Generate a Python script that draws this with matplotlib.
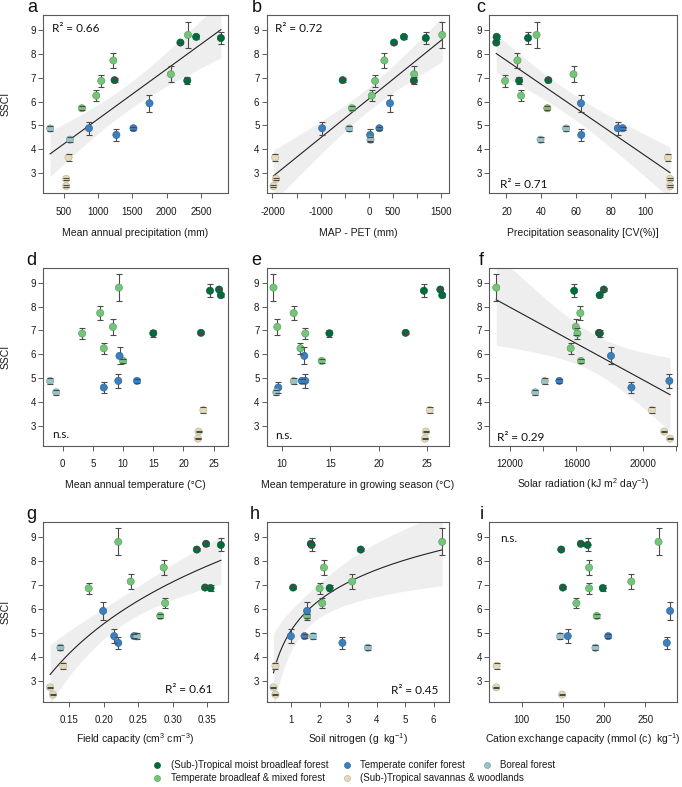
import numpy as np
import matplotlib
matplotlib.use("Agg")
import matplotlib.pyplot as plt
from matplotlib.lines import Line2D

plt.rcParams['font.family'] = ['Liberation Sans', 'DejaVu Sans']
plt.rcParams['axes.unicode_minus'] = False
plt.rcParams['mathtext.fontset'] = 'custom'
plt.rcParams['mathtext.rm'] = 'Liberation Sans'
plt.rcParams['mathtext.it'] = 'Liberation Sans:italic'
plt.rcParams['mathtext.bf'] = 'Liberation Sans:bold'

# ---------------- data ----------------
biome = ['TM'] * 5 + ['TB'] * 6 + ['TC'] * 4 + ['BF'] * 2 + ['SV'] * 3
ssci = [8.48, 8.72, 8.67, 6.90, 6.88,
        5.72, 6.25, 6.87, 7.73, 7.15, 8.80,
        4.88, 4.60, 4.88, 5.93,
        4.87, 4.40,
        3.65, 2.75, 2.45]
ssci_se = [0.08, 0.08, 0.27, 0.07, 0.14,
           0.08, 0.22, 0.24, 0.30, 0.33, 0.56,
           0.28, 0.24, 0.07, 0.36,
           0.12, 0.10,
           0.13, 0.03, 0.03]

map_mm = [2200, 2430, 2790, 1240, 2300, 763, 973, 1046, 1222, 2061, 2310,
          866, 1266, 1515, 1749, 300, 588, 568, 534, 534]
map_pet = [519, 725, 1178, -545, 931, -353, 59, 128, 320, 937, 1520,
           -970, 25, 217, 436, -408, 32, -1945, -1930, -1980]
prec_seas = [14.1, 14.3, 32.4, 44.1, 27.3, 43.5, 28.4, 19.2, 26.3, 58.6, 37.3,
             84.1, 63.1, 86.9, 62.9, 54.3, 39.6, 113.0, 114.2, 114.2]
mat = [26.2, 25.9, 24.4, 22.9, 15.0, 10.0, 6.8, 3.2, 6.2, 8.3, 9.3,
       9.2, 6.8, 12.3, 9.4, -2.1, -1.1, 23.3, 22.5, 22.4]
gst = [26.6, 26.4, 24.7, 22.8, 14.9, 14.1, 11.9, 12.4, 11.2, 9.5, 9.1,
       12.4, 9.6, 12.05, 12.3, 11.2, 9.4, 25.3, 24.9, 24.8]
srad = [17390, 17640, 15860, 17350, 17400, 16270, 15650, 16060, 16230, 15960, 11180,
        21580, 19300, 14970, 18070, 14090, 13520, 20530, 21270, 21620]
field_cap = [0.335, 0.3485, 0.370, 0.347, 0.355, 0.282, 0.289, 0.178, 0.287, 0.239, 0.221,
             0.215, 0.221, 0.244, 0.199, 0.248, 0.137, 0.141, 0.122, 0.126]
soil_n = [3.44, 1.69, 1.72, 1.07, 2.35, 1.56, 2.09, 2.00, 2.15, 3.14, 6.30,
          0.99, 2.80, 1.47, 1.56, 1.77, 3.69, 0.45, 0.38, 0.45]
cec = [148, 171.7, 180, 150, 198.4, 191, 166.4, 181.8, 181.8, 233, 266,
       155.9, 276, 205, 280, 146.6, 189.5, 69.6, 69.2, 149]

biome_order = ['TM', 'TC', 'BF', 'TB', 'SV']
biome_names = {'TM': '(Sub-)Tropical moist broadleaf forest',
               'TC': 'Temperate conifer forest',
               'BF': 'Boreal forest',
               'TB': 'Temperate broadleaf & mixed forest',
               'SV': '(Sub-)Tropical savannas & woodlands'}
biome_colors = {'TM': '#006b3b', 'TB': '#74c47a', 'TC': '#3b7fbf',
                'BF': '#98c2c6', 'SV': '#e4dab9'}
biome_edges = {'TM': '#00502c', 'TB': '#4f9a56', 'TC': '#2a5f92',
               'BF': '#6f9a9e', 'SV': '#b9ae8d'}

panel_letters = ['a', 'b', 'c', 'd', 'e', 'f', 'g', 'h', 'i']
panel_x = [map_mm, map_pet, prec_seas, mat, gst, srad, field_cap, soil_n, cec]
panel_xlabels = ['Mean annual precipitation (mm)', 'MAP - PET (mm)',
                 'Precipitation seasonality [CV(%)]',
                 'Mean annual temperature (°C)',
                 'Mean temperature in growing season (°C)',
                 r'Solar radiation (kJ m$^{2}$ day$^{-1}$)',
                 r'Field capacity (cm$^{3}$ cm$^{-3}$)',
                 r'Soil nitrogen (g  kg$^{-1}$)',
                 r'Cation exchange capacity (mmol (c)  kg$^{-1}$)']
panel_xticks = [[500, 1000, 1500, 2000, 2500],
                [-2000, -1500, -1000, -500, 0, 500, 1000, 1500],
                [20, 40, 60, 80, 100],
                [0, 5, 10, 15, 20, 25],
                [10, 15, 20, 25],
                [12000, 14000, 16000, 18000, 20000, 22000],
                [0.15, 0.20, 0.25, 0.30, 0.35],
                [1, 2, 3, 4, 5, 6],
                [100, 150, 200, 250]]
panel_xticklabels = [None,
                     ['-2000', '', '-1000', '', '0', '500', '', '1500'],
                     None, None, None,
                     ['12000', '', '16000', '', '20000', ''],
                     ['0.15', '0.20', '0.25', '0.30', '0.35'],
                     None, None]
panel_fit = ['lin', 'lin', 'lin', None, None, 'lin', 'log', 'log', None]
panel_stat = ['R² = 0.66', 'R² = 0.72', 'R² = 0.71', 'n.s.', 'n.s.', 'R² = 0.29',
              'R² = 0.61', 'R² = 0.45', 'n.s.']
yticks = [3, 4, 5, 6, 7, 8, 9]

# ---------------- layout ----------------
W, H = 682, 787
fig = plt.figure(figsize=(W / 100, H / 100), dpi=100)
cols = [(43.3, 227.7), (266.7, 449.0), (489.3, 677.0)]
rows = [(15.0, 193.4), (267.7, 446.0), (521.7, 702.0)]
stat_pos = [(0.045, 0.925, 'left', 'center'), (0.046, 0.925, 'left', 'center'),
            (0.055, 0.05, 'left', 'center'), (0.05, 0.062, 'left', 'center'),
            (0.046, 0.058, 'left', 'center'), (0.04, 0.05, 'left', 'center'),
            (0.92, 0.067, 'right', 'center'), (0.94, 0.062, 'right', 'center'),
            (0.057, 0.905, 'left', 'center')]
letter_dx = [-16.3, -15.0, -12.6, -16.6, -15.0, -10.3, -17.3, -16.7, -9.3]
xlabel_base = [-0.236, -0.236, -0.236, -0.236, -0.236, -0.236, -0.225, -0.225, -0.225]

y = np.array(ssci)
ye = np.array(ssci_se)
ylo, yhi = (y - ye).min(), (y + ye).max()
yr = yhi - ylo
ylim = (ylo - 0.04 * yr, yhi + 0.04 * yr)
spine_c = '#5a5a5a'
T975 = 2.101  # t quantile, df = 18

for k in range(9):
    r, c = divmod(k, 3)
    x0, x1 = cols[c]
    t0, t1 = rows[r]
    ax = fig.add_axes([x0 / W, 1 - t1 / H, (x1 - x0) / W, (t1 - t0) / H])
    x = np.array(panel_x[k], dtype=float)
    xr = x.max() - x.min()
    ax.set_xlim(x.min() - 0.04 * xr, x.max() + 0.04 * xr)
    ax.set_ylim(*ylim)

    fit = panel_fit[k]
    if fit is not None:
        xt = np.log(x) if fit == 'log' else x
        b, a = np.polyfit(xt, y, 1)
        n = len(x)
        res = y - (a + b * xt)
        s = np.sqrt((res ** 2).sum() / (n - 2))
        sxx = ((xt - xt.mean()) ** 2).sum()
        xg = np.linspace(x.min(), x.max(), 200)
        xgt = np.log(xg) if fit == 'log' else xg
        yg = a + b * xgt
        se = s * np.sqrt(1.0 / n + (xgt - xt.mean()) ** 2 / sxx)
        ax.fill_between(xg, yg - T975 * se, yg + T975 * se, color='#eeeeee',
                        lw=0, zorder=1)
        ax.plot(xg, yg, color='#222222', lw=0.8, zorder=2)

    eb = ax.errorbar(x, y, yerr=ye, fmt='none', ecolor='#4a4a4a', elinewidth=0.8,
                     capsize=2.4, capthick=0.8, zorder=2.5)
    for cl in eb[1]:
        cl.set_zorder(4)
    cols_pts = [biome_colors[bb] for bb in biome]
    edges_pts = [biome_edges[bb] for bb in biome]
    ax.scatter(x, y, s=27, c=cols_pts, edgecolors=edges_pts, linewidths=0.4,
               zorder=3)

    ax.set_xticks(panel_xticks[k])
    if panel_xticklabels[k] is not None:
        ax.set_xticklabels(panel_xticklabels[k])
    ax.set_yticks(yticks)
    ax.tick_params(direction='out', length=3.6, width=0.7, color=spine_c,
                   labelsize=7, labelcolor='#1a1a1a')
    ax.tick_params(axis='x', pad=6.0)
    ax.tick_params(axis='y', pad=1.6)
    for sp in ax.spines.values():
        sp.set_color(spine_c)
        sp.set_linewidth(0.8)
    ax.set_xlabel(panel_xlabels[k], fontsize=7.5, color='#1a1a1a', va='baseline')
    ax.xaxis.set_label_coords(0.5, xlabel_base[k])
    if c == 0:
        ax.set_ylabel('SSCI', fontsize=7.5, color='#1a1a1a')
        ax.yaxis.set_label_coords(-0.18, 0.5)

    sx, sy, ha, va = stat_pos[k]
    ax.text(sx, sy, panel_stat[k], transform=ax.transAxes, ha=ha, va=va,
            fontsize=8.5, family=['Lato', 'DejaVu Sans'], color='#111111')
    ax.text(letter_dx[k] / (x1 - x0), 1 + 2.5 / (t1 - t0), panel_letters[k],
            transform=ax.transAxes, ha='left', va='baseline', fontsize=13,
            color='#111111')

# ---------------- legend ----------------
leg_pos = {'TM': (157.3, 765.0), 'TC': (346.7, 765.0), 'BF': (486.7, 765.0),
           'TB': (157.3, 778.3), 'SV': (346.7, 778.3)}
for bb in biome_order:
    h = Line2D([], [], ls='none', marker='o', ms=4.4, mfc=biome_colors[bb],
               mec=biome_edges[bb], mew=0.4)
    px, py = leg_pos[bb]
    fig.legend([h], [biome_names[bb]], loc='center left',
               bbox_to_anchor=((px - 4.86) / W, 1 - py / H), frameon=False,
               fontsize=7, borderpad=0, borderaxespad=0, handlelength=1.0,
               handletextpad=0.88, labelcolor='#1a1a1a')

fig.savefig('out.png', dpi=100)
